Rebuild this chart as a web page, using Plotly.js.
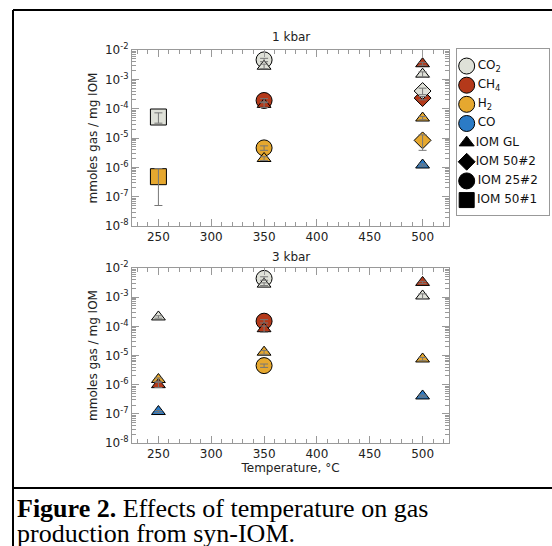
<!DOCTYPE html>
<html><head><meta charset="utf-8">
<script src="https://cdn.plot.ly/plotly-3.0.1.min.js"></script>
<style>html,body{margin:0;padding:0;background:#fff}</style>
</head><body><div id="chart" style="width:552px;height:546px"></div>
<script>
// ---------------- data ----------------
const gasKeys   = ['CO', 'H2', 'CH4', 'CO2'];               // drawing order
const gasColors = {CO2:'#dfe1d8', CH4:'#b4391a', H2:'#e6a82f', CO:'#2b7bc6'};
const sampleSymbols = {'IOM GL':'triangle-up', 'IOM 50#2':'diamond', 'IOM 25#2':'circle', 'IOM 50#1':'square'};
const sampleSizes   = {'IOM GL':12, 'IOM 50#2':13, 'IOM 25#2':16, 'IOM 50#1':16};

// 1 kbar panel
const k1_251_T   = [350];            // IOM 25#2
const k1_251_CO2 = [4.6e-3], k1_251_CO2_err = [0.6e-3];
const k1_251_CH4 = [1.9e-4], k1_251_CH4_err = [0.3e-4];
const k1_251_H2  = [4.6e-6], k1_251_H2_err  = [0.8e-6];

const k1_501_T   = [250];            // IOM 50#1
const k1_501_CO2 = [5.2e-5], k1_501_CO2_err = [2.0e-5];
const k1_501_H2  = [4.8e-7], k1_501_H2_err  = [4.3e-7];

const k1_502_T   = [500];            // IOM 50#2
const k1_502_CO2 = [4.0e-4], k1_502_CO2_err = [1.0e-4];
const k1_502_CH4 = [2.3e-4], k1_502_CH4_err = [0.3e-4];
const k1_502_H2  = [8.3e-6], k1_502_H2_err  = [4.5e-6];

const k1_GL_T    = [350, 500];       // IOM GL
const k1_GL_CO2  = [2.8e-3, 1.5e-3], k1_GL_CO2_err = [0.5e-3, 0.3e-3];
const k1_GL_CH4  = [1.4e-4, 3.4e-3], k1_GL_CH4_err = [0.3e-4, 0.4e-3];
const k1_GL_H2   = [2.0e-6, 4.8e-5], k1_GL_H2_err  = [0.3e-6, 0.6e-5];
const k1_GL_CO   = [null, 1.2e-6],   k1_GL_CO_err  = [null, 0.1e-6];

// 3 kbar panel
const k3_251_T   = [350];            // IOM 25#2
const k3_251_CO2 = [4.4e-3], k3_251_CO2_err = [0.6e-3];
const k3_251_CH4 = [1.5e-4], k3_251_CH4_err = [0.2e-4];
const k3_251_H2  = [4.5e-6], k3_251_H2_err  = [0.6e-6];

const k3_GL_T    = [250, 350, 500];  // IOM GL
const k3_GL_CO2  = [2.1e-4, 2.8e-3, 1.1e-3], k3_GL_CO2_err = [0.2e-4, 0.3e-3, 0.2e-3];
const k3_GL_CH4  = [1.0e-6, 8.3e-5, 3.2e-3], k3_GL_CH4_err = [0.2e-6, 2.0e-5, 0.3e-3];
const k3_GL_H2   = [1.5e-6, 1.3e-5, 7.6e-6], k3_GL_H2_err  = [0.2e-6, 0.2e-5, 1.0e-6];
const k3_GL_CO   = [1.2e-7, null, 4.1e-7],   k3_GL_CO_err  = [0.1e-7, null, 0.3e-7];

// y ticks
const yTickVals = [1e-8, 1e-7, 1e-6, 1e-5, 1e-4, 1e-3, 1e-2];
const yTickText = ['10<sup>-8</sup>', '10<sup>-7</sup>', '10<sup>-6</sup>', '10<sup>-5</sup>', '10<sup>-4</sup>', '10<sup>-3</sup>', '10<sup>-2</sup>'];

// legend
const legendLabels  = ['CO<sub>2</sub>', 'CH<sub>4</sub>', 'H<sub>2</sub>', 'CO', 'IOM GL', 'IOM 50#2', 'IOM 25#2', 'IOM 50#1'];
const legendSymbols = ['circle', 'circle', 'circle', 'circle', 'triangle-up', 'diamond', 'circle', 'square'];
const legendColors  = ['#dfe1d8', '#b4391a', '#e6a82f', '#2b7bc6', '#000', '#000', '#000', '#000'];
const legendSizes   = [16, 16, 16, 16, 13, 13, 16, 15];
const legendRows    = [0, 1, 2, 3, 4, 5, 6, 7];

const xTickFirst = 250, xTickStep = 50;

// ---------------- build ----------------
const panels = [
  {xa:'x', ya:'y', groups:[
    {s:'IOM 25#2', T:k1_251_T, v:{CO2:[k1_251_CO2,k1_251_CO2_err], CH4:[k1_251_CH4,k1_251_CH4_err], H2:[k1_251_H2,k1_251_H2_err]}},
    {s:'IOM 50#1', T:k1_501_T, v:{CO2:[k1_501_CO2,k1_501_CO2_err], H2:[k1_501_H2,k1_501_H2_err]}},
    {s:'IOM 50#2', T:k1_502_T, v:{CO2:[k1_502_CO2,k1_502_CO2_err], CH4:[k1_502_CH4,k1_502_CH4_err], H2:[k1_502_H2,k1_502_H2_err]}},
    {s:'IOM GL',   T:k1_GL_T,  v:{CO2:[k1_GL_CO2,k1_GL_CO2_err], CH4:[k1_GL_CH4,k1_GL_CH4_err], H2:[k1_GL_H2,k1_GL_H2_err], CO:[k1_GL_CO,k1_GL_CO_err]}}
  ]},
  {xa:'x2', ya:'y2', groups:[
    {s:'IOM 25#2', T:k3_251_T, v:{CO2:[k3_251_CO2,k3_251_CO2_err], CH4:[k3_251_CH4,k3_251_CH4_err], H2:[k3_251_H2,k3_251_H2_err]}},
    {s:'IOM GL',   T:k3_GL_T,  v:{CO2:[k3_GL_CO2,k3_GL_CO2_err], CH4:[k3_GL_CH4,k3_GL_CH4_err], H2:[k3_GL_H2,k3_GL_H2_err], CO:[k3_GL_CO,k3_GL_CO_err]}}
  ]}
];

const markerTraces = [], errTraces = [];
panels.forEach(p => {
  p.groups.forEach(g => {
    gasKeys.forEach(gk => {
      if (!g.v[gk]) return;
      const [vals, errs] = g.v[gk];
      markerTraces.push({
        type:'scatter', mode:'markers', xaxis:p.xa, yaxis:p.ya, showlegend:false, hoverinfo:'skip',
        x:g.T, y:vals, cliponaxis:false,
        marker:{symbol:sampleSymbols[g.s], size:sampleSizes[g.s], color:gasColors[gk], opacity:1, line:{color:'#000', width:1}}
      });
      errTraces.push({
        type:'scatter', mode:'markers', xaxis:p.xa, yaxis:p.ya, showlegend:false, hoverinfo:'skip',
        x:g.T, y:vals, marker:{size:1, opacity:0},
        error_y:{type:'data', array:errs, visible:true, color:'#777', thickness:1, width:4}
      });
    });
  });
});

const legendTrace = {
  type:'scatter', mode:'markers+text', xaxis:'x3', yaxis:'y3', showlegend:false, hoverinfo:'skip',
  x:legendRows.map(() => 0), y:legendRows, text:legendLabels, textposition:'middle right',
  textfont:{family:'DejaVu Sans', size:12, color:'#111'}, cliponaxis:false,
  marker:{symbol:legendSymbols, size:legendSizes, color:legendColors, opacity:1, line:{color:'#000', width:1}}
};

const W = 552, H = 546;
const xDom = [132/W, 449/W];
const tickFont = {family:'DejaVu Sans', size:12, color:'#222'};
function xAxis(anchor, title) {
  return {domain:xDom, anchor:anchor, range:[225, 525], tick0:xTickFirst, dtick:xTickStep,
    ticks:'inside', ticklen:7, tickcolor:'#999', showline:true, linecolor:'#999', linewidth:1, mirror:'ticks',
    showgrid:false, zeroline:false, tickfont:tickFont,
    minor:{ticks:'inside', ticklen:4, tickcolor:'#999', dtick:10, showgrid:false},
    title: title ? {text:title, font:{family:'DejaVu Sans', size:12, color:'#222'}, standoff:2} : undefined};
}
function yAxis(anchor, dom) {
  return {domain:dom, anchor:anchor, type:'log', range:[-8, -2], tickmode:'array', tickvals:yTickVals, ticktext:yTickText,
    ticks:'inside', ticklen:7, tickcolor:'#999', showline:true, linecolor:'#999', linewidth:1, mirror:'ticks',
    showgrid:false, zeroline:false, tickfont:tickFont,
    minor:{tickmode:'linear', ticks:'inside', ticklen:4, tickcolor:'#999', dtick:'D1', showgrid:false},
    title:{text:'mmoles gas / mg IOM', font:{family:'DejaVu Sans', size:12, color:'#222'}, standoff:4}};
}

const layout = {
  width:W, height:H, margin:{l:0, r:0, t:0, b:0}, paper_bgcolor:'#fff', plot_bgcolor:'#fff',
  font:{family:'DejaVu Sans', size:12, color:'#222'}, showlegend:false,
  xaxis:xAxis('y', null),
  yaxis:yAxis('x', [1-226/H, 1-50/H]),
  xaxis2:xAxis('y2', 'Temperature, °C'),
  yaxis2:yAxis('x2', [1-443/H, 1-268/H]),
  xaxis3:{domain:[457/W, 549/W], anchor:'y3', range:[-1, 8.5], showline:true, mirror:true, linecolor:'#999',
    ticks:'', showticklabels:false, showgrid:false, zeroline:false, fixedrange:true},
  yaxis3:{domain:[1-215/H, 1-49/H], anchor:'x3', range:[7.78, -0.89], showline:true, mirror:true, linecolor:'#999',
    ticks:'', showticklabels:false, showgrid:false, zeroline:false, fixedrange:true},
  annotations:[
    {text:'1 kbar', xref:'paper', yref:'paper', x:290.5/W, y:1-37/H, xanchor:'center', yanchor:'middle', showarrow:false,
     font:{family:'DejaVu Sans', size:12, color:'#222'}},
    {text:'3 kbar', xref:'paper', yref:'paper', x:290.5/W, y:1-257/H, xanchor:'center', yanchor:'middle', showarrow:false,
     font:{family:'DejaVu Sans', size:12, color:'#222'}},
    {text:'<b>Figure 2.</b> Effects of temperature on gas', xref:'paper', yref:'paper', x:15/W, y:1-508/H,
     xanchor:'left', yanchor:'middle', showarrow:false, font:{family:'Liberation Serif', size:26, color:'#000'}},
    {text:'production from syn-IOM.', xref:'paper', yref:'paper', x:15/W, y:1-533/H,
     xanchor:'left', yanchor:'middle', showarrow:false, font:{family:'Liberation Serif', size:26, color:'#000'}}
  ],
  shapes:[
    {type:'line', xref:'paper', yref:'paper', x0:13/W, x1:13/W, y0:0, y1:1-10/H, line:{color:'#000', width:2}},
    {type:'line', xref:'paper', yref:'paper', x0:13/W, x1:1, y0:1-10/H, y1:1-10/H, line:{color:'#000', width:2}},
    {type:'line', xref:'paper', yref:'paper', x0:13/W, x1:1, y0:1-488/H, y1:1-488/H, line:{color:'#000', width:2}}
  ]
};

Plotly.newPlot('chart', markerTraces.concat(errTraces, [legendTrace]), layout, {displayModeBar:false, staticPlot:true});
</script></body></html>
